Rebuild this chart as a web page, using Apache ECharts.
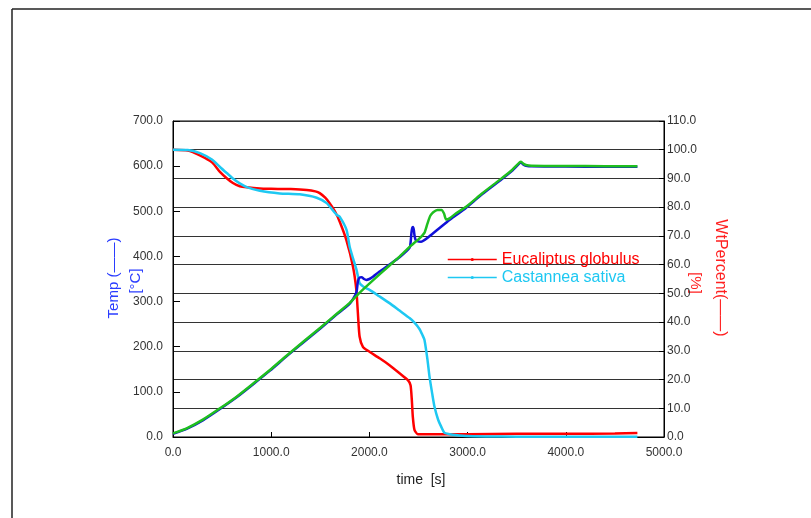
<!DOCTYPE html>
<html><head><meta charset="utf-8">
<script src="https://cdn.jsdelivr.net/npm/echarts@6/dist/echarts.min.js"></script>
<style>html,body{margin:0;padding:0;background:#fff}#c{width:811px;height:518px}</style>
</head><body><div id="c"></div>
<script>
// Legend names
const seriesNames = ['Eucaliptus globulus', 'Castannea sativa'];

// Weight percent (right axis)
const eucWtTime = [0,150,274,400,478,550,610,680,752,884,1000,1200,1362,1450,1494,1550,1595,1650,1697,1765,1833,1867,1883,1900,1934,1985,2104,2205,2307,2392,2419,2432,2442,2459,2493,2600,3000,3500,4000,4500,4729];
const eucWtVal  = [100,99.7,98,95.5,92.3,90,88.4,87.3,86.9,86.5,86.4,86.3,86,85.5,84.9,83.3,81.4,78.5,75,68.6,59.3,51.2,43,35,31.4,30,27.4,25,22.2,19.8,18,12.9,7.1,2.5,1.0,1.0,1.0,1.1,1.1,1.2,1.4];

const castWtTime = [0,150,274,400,478,550,610,680,752,884,1087,1290,1463,1565,1667,1697,1768,1799,1835,1870,1900,1940,2002,2100,2205,2307,2409,2459,2510,2540,2561,2591,2612,2640,2663,2700,2731,2764,2850,2985,3200,3500,4000,4500,4729];
const castWtVal  = [100,99.9,98.8,96.5,94,91.8,90,88.3,87,85.7,84.8,84.5,83.3,81.4,77.3,76.7,72,66.2,62,58,53.6,52.3,51.2,49,46.6,44,41.4,39.8,37.6,35.5,33.8,27,21,15,10.5,6,3.6,1.5,0.8,0.35,0.2,0.1,0.1,0.1,0.1];

// Temperature (left axis)
const castTempTime = [0,139,308,478,648,820,987,1150,1326,1500,1665,1800,1902,2036,2205,2307,2409,2510,2560,2590,2620,2650,2693,2734,2760,2781,2820,2880,2985,3150,3323,3450,3527,3544,3570,3594,3650,4000,4400,4729];
const castTempVal  = [8,19.2,39,63.5,89.4,119,148.4,179,211,242,272.5,297,320,347,380,399.5,421,440,452,472,490,498,503,503,495,482,485,495,510,540,569,591,607.8,610,605,602.6,601,600.5,600,600];

const eucTempTime = [0,139,308,478,648,820,987,1150,1326,1500,1665,1800,1860,1872,1884,1900,1920,1945,1968,2000,2036,2100,2205,2307,2409,2420,2428,2436,2444,2452,2460,2470,2485,2527,2646,2815,2900,2985,3150,3323,3450,3527,3544,3570,3594,3650,4000,4400,4729];
const eucTempVal  = [7,18,37.5,62,88,117.5,147,177.5,209.5,240.5,271,295.5,316,325,346,353,354,350,348,350,355,366,382,398,419,432,452,463,465,459,446,437,434,432.7,451,480.8,494,508,538,567,589,606,608,603,601,599.5,599,598.5,598.5];

const zip = (a, b) => a.map((t, i) => [t, b[i]]);
const fmt = v => Number(v).toFixed(1);
const FONT = 'Liberation Sans, Arial, sans-serif';

const chart = echarts.init(document.getElementById('c'), null, {renderer: 'canvas'});
chart.setOption({
  animation: false,
  backgroundColor: '#fff',
  grid: {left: 173, right: 147, top: 121, bottom: 81, show: true, borderColor: '#000', borderWidth: 1, containLabel: false, outerBoundsMode: 'none'},
  legend: {
    left: 447, top: 251, orient: 'vertical', itemWidth: 49, itemHeight: 4, itemGap: 1, padding: 0,
    lineStyle: {width: 1.5},
    textStyle: {fontFamily: FONT, fontSize: 16, lineHeight: 17},
    data: [
      {name: seriesNames[0], textStyle: {color: '#ff0000'}},
      {name: seriesNames[1], textStyle: {color: '#1ec8f2'}}
    ]
  },
  xAxis: {
    type: 'value', min: 0, max: 5000, interval: 1000,
    axisLine: {lineStyle: {color: '#000', width: 1}},
    axisTick: {inside: true, length: 5, lineStyle: {color: '#000'}},
    axisLabel: {formatter: fmt, color: '#333', fontFamily: FONT, fontSize: 12, margin: 10},
    splitLine: {show: false}
  },
  yAxis: [
    {
      type: 'value', min: 0, max: 700, interval: 100, position: 'left',
      axisLine: {show: true, lineStyle: {color: '#000', width: 1}},
      axisTick: {show: true, inside: true, length: 7, lineStyle: {color: '#000'}},
      axisLabel: {formatter: fmt, color: '#333', fontFamily: FONT, fontSize: 12, margin: 10},
      splitLine: {show: false}
    },
    {
      type: 'value', min: 0, max: 110, interval: 10, position: 'right',
      axisLine: {show: true, lineStyle: {color: '#000', width: 1}},
      axisTick: {show: true, inside: true, length: 5, lineStyle: {color: '#000'}},
      axisLabel: {formatter: fmt, color: '#333', fontFamily: FONT, fontSize: 12, margin: 3},
      splitLine: {show: true, lineStyle: {color: '#333', width: 1}}
    }
  ],
  series: [
    {type: 'line', name: seriesNames[0], yAxisIndex: 1, data: zip(eucWtTime, eucWtVal),
     showSymbol: false, symbol: 'circle', symbolSize: 3, smooth: 0.2,
     lineStyle: {color: '#ff0000', width: 2.5}, itemStyle: {color: '#ff0000'}, z: 2},
    {type: 'line', name: seriesNames[1], yAxisIndex: 1, data: zip(castWtTime, castWtVal),
     showSymbol: false, symbol: 'circle', symbolSize: 3, smooth: 0.2,
     lineStyle: {color: '#1ec8f2', width: 2.5}, itemStyle: {color: '#1ec8f2'}, z: 3},
    {type: 'line', name: 'Temp E', yAxisIndex: 0, data: zip(eucTempTime, eucTempVal),
     showSymbol: false, smooth: 0.2,
     lineStyle: {color: '#1010d8', width: 2.5}, itemStyle: {color: '#1010d8'}, z: 4},
    {type: 'line', name: 'Temp C', yAxisIndex: 0, data: zip(castTempTime, castTempVal),
     showSymbol: false, smooth: 0.2,
     lineStyle: {color: '#1fbf1f', width: 2.5}, itemStyle: {color: '#1fbf1f'}, z: 5}
  ],
  graphic: [
    {type: 'line', shape: {x1: 12, y1: 9, x2: 811, y2: 9}, style: {stroke: '#222', lineWidth: 1.5}},
    {type: 'line', shape: {x1: 12, y1: 9, x2: 12, y2: 518}, style: {stroke: '#222', lineWidth: 1.5}},
    {type: 'text', x: 114, y: 278, rotation: Math.PI / 2,
     style: {text: 'Temp (——)', fill: '#2a3cff', font: '15px ' + FONT, align: 'center', verticalAlign: 'middle'}},
    {type: 'text', x: 136, y: 281, rotation: Math.PI / 2,
     style: {text: '[°C]', fill: '#2a3cff', font: '15px ' + FONT, align: 'center', verticalAlign: 'middle'}},
    {type: 'text', x: 720, y: 278, rotation: -Math.PI / 2,
     style: {text: 'WtPercent(——)', fill: '#ff2020', font: '16px ' + FONT, align: 'center', verticalAlign: 'middle'}},
    {type: 'text', x: 695, y: 283, rotation: -Math.PI / 2,
     style: {text: '[%]', fill: '#ff2020', font: '15px ' + FONT, align: 'center', verticalAlign: 'middle'}},
    {type: 'text', x: 421, y: 480,
     style: {text: 'time  [s]', fill: '#222', font: '14px ' + FONT, align: 'center', verticalAlign: 'middle'}}
  ]
});
</script>
</body></html>
